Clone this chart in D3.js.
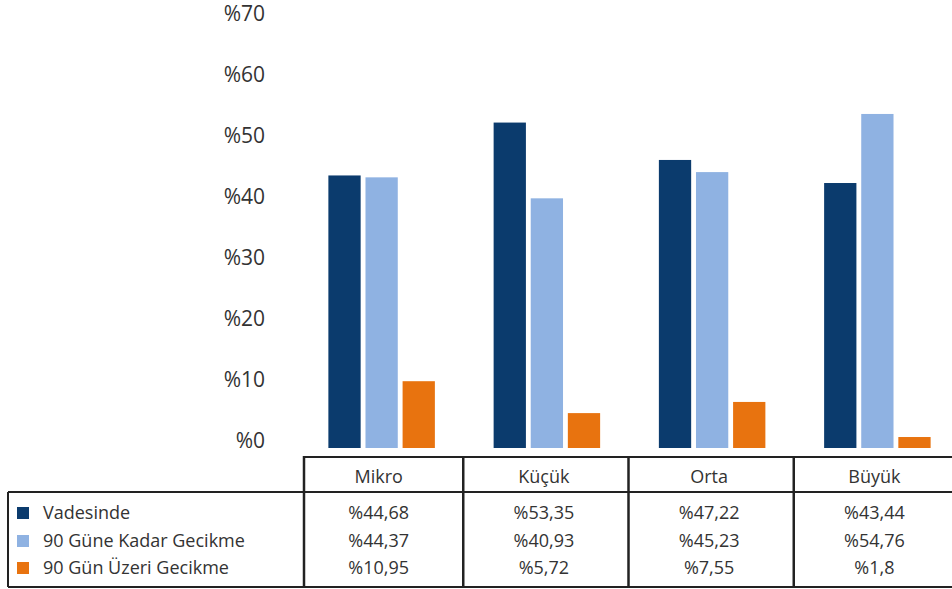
<!DOCTYPE html>
<html><head><meta charset="utf-8">
<script src="https://cdn.jsdelivr.net/npm/d3@7"></script>
<style>body{margin:0;background:#fff}svg{display:block}</style>
</head><body>
<script>
const categories = ["Mikro", "Küçük", "Orta", "Büyük"];
const seriesNames = ["Vadesinde", "90 Güne Kadar Gecikme", "90 Gün Üzeri Gecikme"];
const vadesinde = [44.68, 53.35, 47.22, 43.44];
const kadar90 = [44.37, 40.93, 45.23, 54.76];
const uzeri90 = [10.95, 5.72, 7.55, 1.8];
const tableLabels = [
  ["%44,68", "%53,35", "%47,22", "%43,44"],
  ["%44,37", "%40,93", "%45,23", "%54,76"],
  ["%10,95", "%5,72", "%7,55", "%1,8"]
];
const yTicks = [0, 10, 20, 30, 40, 50, 60, 70];
const colors = ["#0b3b6d", "#8fb2e2", "#e8730f"];

const W = 952, H = 589;
const svg = d3.select("body").append("svg").attr("width", W).attr("height", H);
const font = "'Open Sans', sans-serif";
const textColor = "#333";

const series = [vadesinde, kadar90, uzeri90];
const x0 = d3.scaleBand().domain(categories).range([299, 960]).padding(0);
const x1 = d3.scaleBand().domain(seriesNames).range([0, 106.5]).paddingInner(0.13);
const y = d3.scaleLinear().domain([0, 70]).range([448, 21]);

// y tick labels
svg.append("g").selectAll("text").data(yTicks).join("text")
  .attr("x", 265).attr("y", d => y(d))
  .attr("text-anchor", "end")
  .attr("font-family", font).attr("font-size", 21).attr("fill", textColor)
  .text(d => "%" + d);

// bars
const groups = svg.append("g").selectAll("g").data(categories).join("g")
  .attr("transform", c => `translate(${x0(c) + (x0.bandwidth() - 106.5) / 2},0)`);
groups.selectAll("rect").data((c, i) => seriesNames.map((s, j) => ({s, j, v: series[j][i]})))
  .join("rect")
  .attr("x", d => x1(d.s)).attr("width", x1.bandwidth())
  .attr("y", d => y(d.v)).attr("height", d => y(0) - y(d.v))
  .attr("fill", d => colors[d.j]);

// table
const headTop = 457, headBot = 492, tBot = 587, left = 8;
const rowY = [513, 541, 568];
const line = (x1_, y1_, x2_, y2_, w) => svg.append("line")
  .attr("x1", x1_).attr("y1", y1_).attr("x2", x2_).attr("y2", y2_)
  .attr("stroke", "#222").attr("stroke-width", w || 2);
const colEdges = categories.map((c, i) => i === 0 ? x0(c) + 5 : x0(c) - 1);
line(colEdges[0], headTop, W + 5, headTop);
line(left, headBot, W + 5, headBot);
line(left, tBot, W + 5, tBot);
line(left, headBot, left, tBot);
colEdges.forEach(xe => line(xe, headTop - 1, xe, tBot + 1, 2.5));

const cx = c => x0(c) + x0.bandwidth() / 2 - 3;
svg.append("g").selectAll("text").data(categories).join("text")
  .attr("x", cx)
  .attr("y", 477).attr("dy", "0.35em").attr("text-anchor", "middle")
  .attr("font-family", font).attr("font-size", 18).attr("fill", textColor)
  .text(c => c);

seriesNames.forEach((s, j) => {
  svg.append("rect").attr("x", 17).attr("y", rowY[j] - 6).attr("width", 12).attr("height", 12)
    .attr("fill", colors[j]);
  svg.append("text").attr("x", 43).attr("y", rowY[j]).attr("dy", "0.35em")
    .attr("font-family", font).attr("font-size", 18).attr("fill", textColor).text(s);
  svg.append("g").selectAll("text").data(categories).join("text")
    .attr("x", cx)
    .attr("y", rowY[j]).attr("dy", "0.35em").attr("text-anchor", "middle")
    .attr("font-family", font).attr("font-size", 18).attr("fill", textColor)
    .text((c, i) => tableLabels[j][i]);
});
</script>
</body></html>
